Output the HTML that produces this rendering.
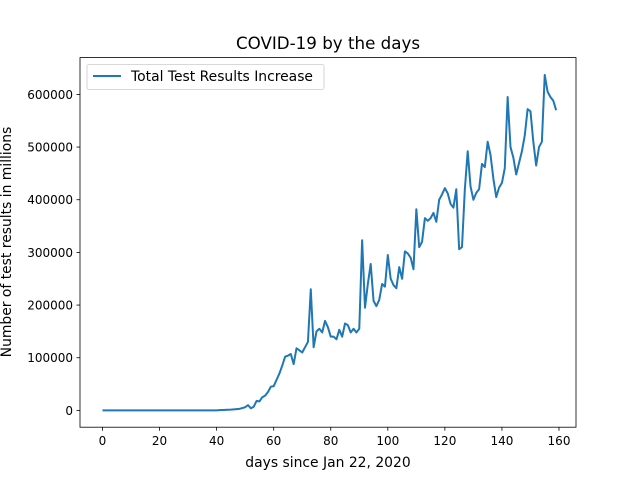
<!DOCTYPE html>
<html><head><meta charset="utf-8"><style>
body{margin:0;background:#fff;}
svg{display:block;font-family:"DejaVu Sans","Liberation Sans",sans-serif;}
</style></head><body>
<svg id="chart" width="640" height="480">
<rect x="0" y="0" width="640" height="480" fill="#fff"/>
<text x="328" y="49" font-size="16.7" text-anchor="middle">COVID-19 by the days</text>
<g id="ticks"></g>
<path id="line" fill="none" stroke="#1f77b4" stroke-width="2" stroke-linejoin="round"/>
<rect x="80" y="57.6" width="496" height="369.6" fill="none" stroke="#000" stroke-width="0.8"/>
<text x="328" y="467" font-size="13.9" text-anchor="middle">days since Jan 22, 2020</text>
<text transform="translate(11,242) rotate(-90)" font-size="13.9" text-anchor="middle">Number of test results in millions</text>
<g>
<rect x="87" y="64.5" width="237" height="25" rx="2" fill="#fff" stroke="#ccc" stroke-width="0.8"/>
<line x1="93" y1="76" x2="121" y2="76" stroke="#1f77b4" stroke-width="2"/>
<text x="131" y="81" font-size="13.9">Total Test Results Increase</text>
</g>
</svg>
<script>
const xTicks=[0,20,40,60,80,100,120,140,160];
const yTicks=[0,100000,200000,300000,400000,500000,600000];
const yTickLabels=["0","100000","200000","300000","400000","500000","600000"];
const values=[0,0,0,0,0,0,0,0,0,0,0,0,0,0,0,0,0,0,0,0,0,0,0,0,0,0,0,0,0,0,0,0,0,0,0,0,0,0,0,0,0,
500,800,1000,1200,1500,2000,2500,3000,4500,6000,10000,4000,7000,18000,17000,25000,28000,35000,45000,46000,58000,70000,85000,102000,104000,107000,88000,118000,114000,110000,120000,130000,230000,120000,150000,155000,148000,170000,158000,140000,140000,135000,153000,140000,165000,162000,148000,155000,148000,155000,323000,195000,240000,278000,208000,198000,210000,240000,235000,295000,250000,238000,232000,272000,250000,302000,298000,290000,268000,382000,310000,320000,365000,360000,365000,375000,358000,400000,410000,422000,412000,392000,385000,420000,306000,310000,420000,492000,425000,400000,413000,420000,468000,462000,510000,485000,440000,405000,423000,432000,460000,595000,500000,480000,448000,470000,492000,522000,572000,568000,510000,465000,500000,510000,637000,605000,595000,588000,570000];
const X=d=>102.5+d*(559-102.5)/160;
const Y=v=>410.4-v*(410.4-94.4)/600000;
const NS="http://www.w3.org/2000/svg";
const g=document.getElementById('ticks');
function mk(t,a){const e=document.createElementNS(NS,t);for(const k in a)e.setAttribute(k,a[k]);g.appendChild(e);return e;}
xTicks.forEach(t=>{
 const l=mk('line',{x1:X(t),x2:X(t),y1:427.2,y2:430.7,stroke:'#000','stroke-width':0.8});
 
 
 const tx=mk('text',{x:X(t),y:445,'font-size':12,'text-anchor':'middle'});tx.textContent=t;
 
 
});
yTicks.forEach((t,i)=>{
 const l=mk('line',{x1:76.5,x2:80,y1:Y(t),y2:Y(t),stroke:'#000','stroke-width':0.8});
 
 
 const tx=mk('text',{x:73,y:Y(t)+4.5,'font-size':12,'text-anchor':'end'});tx.textContent=yTickLabels[i];
 
 
});
document.getElementById('line').setAttribute('d',values.map((v,i)=>(i?'L':'M')+X(i).toFixed(2)+','+Y(v).toFixed(2)).join(''));
</script>
</body></html>
